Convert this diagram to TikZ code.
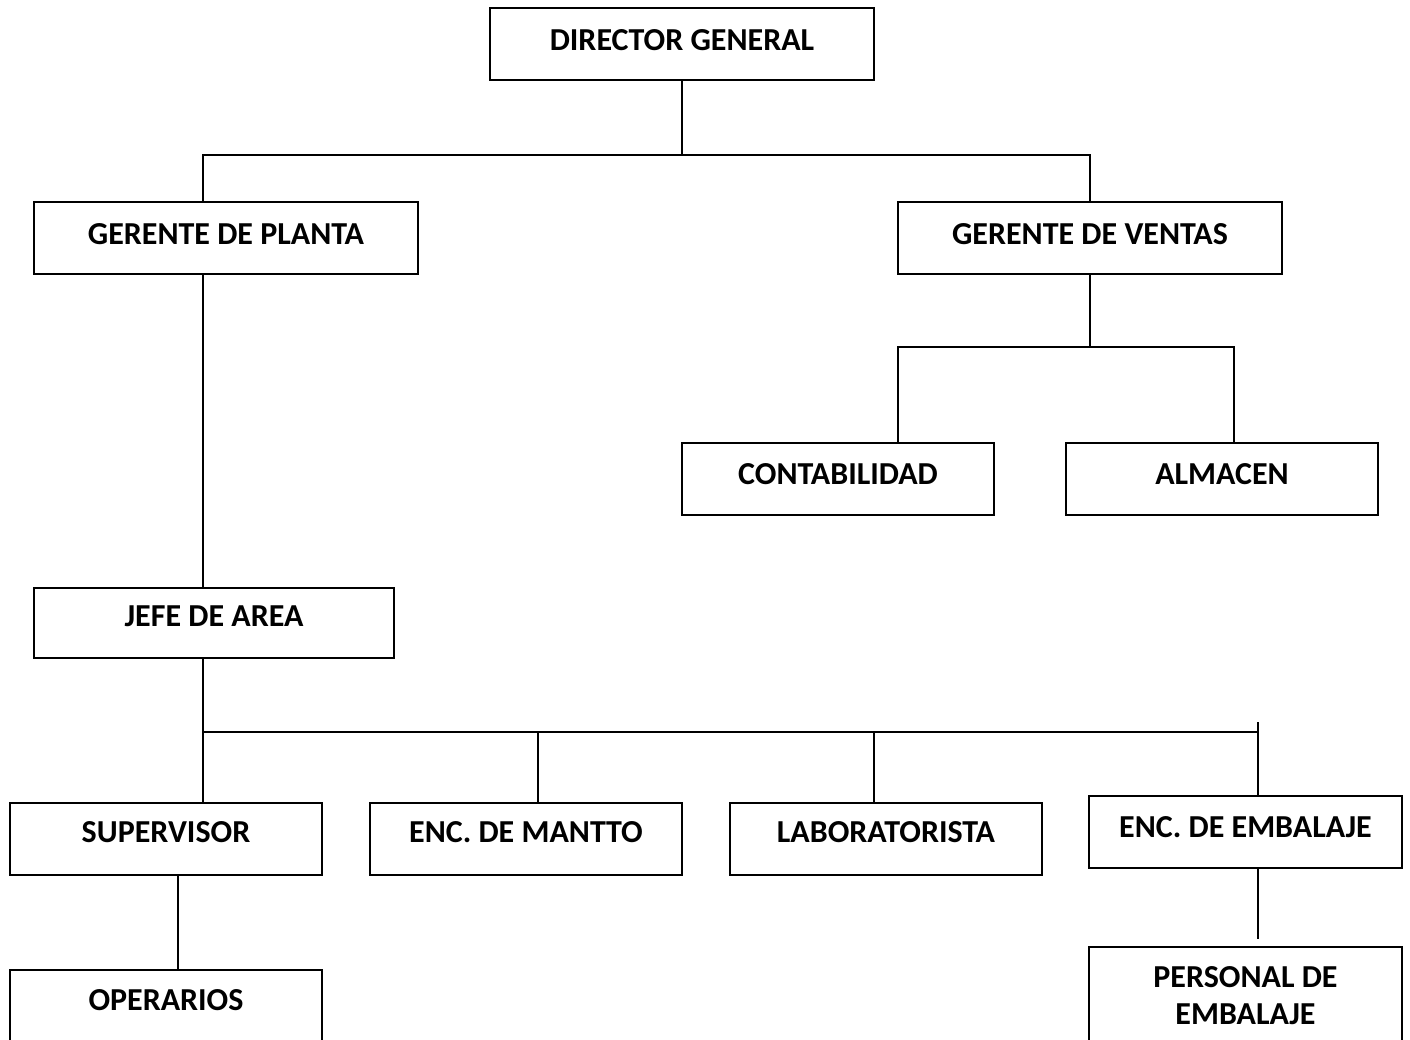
\documentclass[tikz,border=0pt]{standalone}
\usepackage{fontspec}
\setmainfont{Carlito}
\usetikzlibrary{calc}
\tikzset{
  caja/.style={draw, line width=1.8pt, minimum width=312pt, minimum height=72pt,
    inner sep=0pt, align=center, font=\fontsize{32}{37}\selectfont\bfseries},
  cargo/.style={caja, text height=21pt, text depth=#1},
  cargo/.default=10pt,
  enlace/.style={line width=1.6pt},
}
\begin{document}
\begin{tikzpicture}[x=1pt,y=-1pt]
\useasboundingbox (0,0) rectangle (1410,1040);
\clip (0,0) rectangle (1410,1040);
% cargos
\node[cargo=7pt, minimum width=384pt] (dir) at (682,44) {DIRECTOR GENERAL};
\node[cargo=8pt, minimum width=384pt] (planta) at (226,238) {GERENTE DE PLANTA};
\node[cargo=8pt, minimum width=384pt] (ventas) at (1090,238) {GERENTE DE VENTAS};
\node[cargo] (conta) at (838,479) {CONTABILIDAD};
\node[cargo] (alm) at (1222,479) {ALMACEN};
\node[cargo=14pt, minimum width=360pt, minimum height=70pt] (jefe) at (214,623) {JEFE DE AREA};
\node[cargo=14pt] (sup) at (166,839) {SUPERVISOR};
\node[cargo=14pt] (mant) at (526,839) {ENC. DE MANTTO};
\node[cargo=14pt] (lab) at (886,839) {LABORATORISTA};
\node[cargo, minimum width=313pt] (emb) at (1245.5,832) {ENC. DE EMBALAJE};
\node[cargo=12pt] (oper) at (166,1006) {OPERARIOS};
\node[caja, minimum width=313pt, minimum height=98pt] (pers) at (1245.5,996) {PERSONAL DE\\EMBALAJE};
% enlaces
\coordinate (busA) at ($(dir.south)+(0,74)$);
\draw[enlace] (dir.south) -- (busA);
\draw[enlace] ([xshift=-23pt]planta.north) |- (busA) -| (ventas.north);
\coordinate (busB) at ($(ventas.south)+(0,72)$);
\draw[enlace] (ventas.south) -- (busB);
\draw[enlace] ([xshift=60pt]conta.north) |- (busB) -| ([xshift=12pt]alm.north);
\draw[enlace] ([xshift=-23pt]planta.south) -- ([xshift=-11pt]jefe.north);
\coordinate (busC) at ($(jefe.south)+(-11,73)$);
\coordinate (embTop) at ($(emb.north)+(12.5,-73)$);
\draw[enlace] ([xshift=-11pt]jefe.south) -- ([xshift=37pt]sup.north);
\draw[enlace] (busC) -| ([xshift=12pt]mant.north);
\draw[enlace] (busC) -| ([xshift=-12pt]lab.north);
\draw[enlace] (busC) -- (busC -| embTop);
\draw[enlace] (embTop) -- ([xshift=12.5pt]emb.north);
\coordinate (gapE) at ($(pers.north)+(12.5,-7)$);
\draw[enlace] ([xshift=12.5pt]emb.south) -- (gapE);
\draw[enlace] ([xshift=12pt]sup.south) -- ([xshift=12pt]oper.north);
\end{tikzpicture}
\end{document}
